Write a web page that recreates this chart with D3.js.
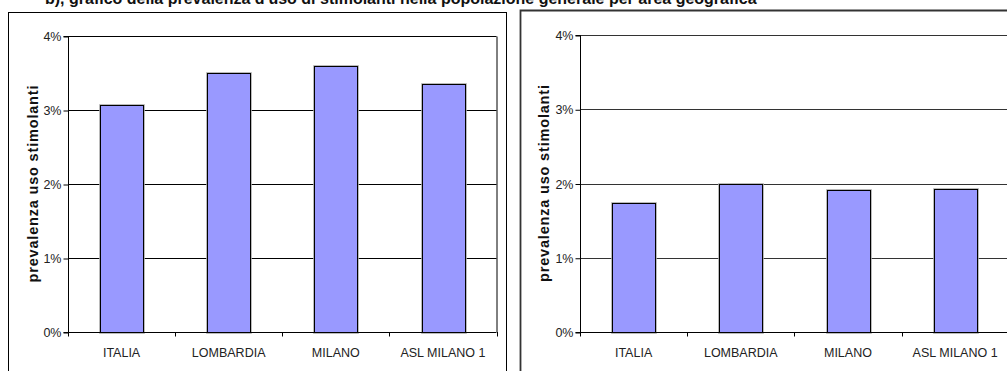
<!DOCTYPE html>
<html>
<head>
<meta charset="utf-8">
<script src="https://cdn.jsdelivr.net/npm/d3@7"></script>
<style>
  html, body { margin: 0; padding: 0; background: #fff; }
  svg { display: block; }
  text { font-family: Arial, "Liberation Sans", sans-serif; }
</style>
</head>
<body>
<svg id="chart" width="1007" height="371"></svg>
<script>
// Areas shown on the x axis of both panels
const categories = ["ITALIA", "LOMBARDIA", "MILANO", "ASL MILANO 1"];
// Prevalence of stimulant use (%), left and right panel
const leftValues = [3.07, 3.50, 3.60, 3.35];
const rightValues = [1.74, 2.00, 1.91, 1.93];
// Y axis ticks (%)
const yTicks = [0, 1, 2, 3, 4];
const yTitle = "prevalenza uso stimolanti";
const pageTitle = "b), grafico della prevalenza d'uso di stimolanti nella popolazione generale per area geografica";

const svg = d3.select("#chart");

// Page heading (its upper part lies above the visible area)
svg.append("text")
  .attr("x", 45).attr("y", 4)
  .attr("font-size", 16).attr("font-weight", "bold")
  .attr("fill", "#111")
  .text(pageTitle);

// Panel frames
svg.append("rect")
  .attr("x", 8.5).attr("y", 12.5).attr("width", 498).attr("height", 400)
  .attr("fill", "none").attr("stroke", "#000").attr("stroke-width", 1);
svg.append("path")
  .attr("d", "M520.5,420V10.5H1010")
  .attr("fill", "none").attr("stroke", "#333").attr("stroke-width", 1.8);

function drawPanel(cfg) {
  const g = svg.append("g");
  const x = d3.scaleBand().domain(categories)
    .range([cfg.x0, cfg.x1]).paddingInner(0.6).paddingOuter(0.3);
  const y = d3.scaleLinear().domain([0, 4]).range([cfg.yBottom, cfg.yTop]);

  // horizontal gridlines
  g.selectAll("line.grid").data(yTicks.filter(d => d > 0)).join("line")
    .attr("class", "grid")
    .attr("x1", cfg.x0).attr("x2", cfg.x1)
    .attr("y1", d => Math.round(y(d)) + 0.5).attr("y2", d => Math.round(y(d)) + 0.5)
    .attr("stroke", cfg.gridColor).attr("stroke-width", 1);

  // plot-area right border
  if (cfg.rightBorder) {
    g.append("line")
      .attr("x1", cfg.x1 + 0.5).attr("x2", cfg.x1 + 0.5)
      .attr("y1", Math.round(y(4)) + 0.5).attr("y2", cfg.yBottom)
      .attr("stroke", "#000");
  }

  // bars with a soft grey halo
  g.selectAll("rect.halo").data(cfg.values).join("rect")
    .attr("class", "halo")
    .attr("x", (d, i) => Math.round(x(categories[i])) + 0.5)
    .attr("y", d => Math.round(y(d)) + 0.5)
    .attr("width", Math.round(x.bandwidth()))
    .attr("height", d => y(0) - Math.round(y(d)))
    .attr("fill", "none").attr("stroke", "#aaa").attr("stroke-width", 2.6);
  g.selectAll("rect.bar").data(cfg.values).join("rect")
    .attr("class", "bar")
    .attr("x", (d, i) => Math.round(x(categories[i])) + 0.5)
    .attr("y", d => Math.round(y(d)) + 0.5)
    .attr("width", Math.round(x.bandwidth()))
    .attr("height", d => y(0) - Math.round(y(d)))
    .attr("fill", "#9999ff").attr("stroke", "#000").attr("stroke-width", 1);

  // y axis
  const yAxis = d3.axisLeft(y).tickValues(yTicks).tickSize(5).tickPadding(2)
    .tickFormat(d => d + "%");
  const ya = g.append("g").attr("transform", `translate(${cfg.x0 + 0.5},0.5)`).call(yAxis);
  ya.select(".domain").attr("stroke", "#000").attr("d", `M-5,${y(0)}H0V${y(4)}H-5`);
  ya.selectAll(".tick line").attr("stroke", "#000");
  ya.selectAll(".tick text")
    .attr("font-size", 12.5).attr("fill", "#222")
    .attr("font-family", "Arial, 'Liberation Sans', sans-serif");

  // x axis: ticks sit between categories
  const xa = g.append("g");
  xa.append("line")
    .attr("x1", cfg.x0).attr("x2", cfg.x1)
    .attr("y1", y(0) + 0.5).attr("y2", y(0) + 0.5)
    .attr("stroke", "#000");
  const bounds = d3.range(categories.length + 1)
    .map(i => cfg.x0 + i * x.step());
  xa.selectAll("line.tk").data(bounds).join("line")
    .attr("class", "tk")
    .attr("x1", d => Math.round(d) + 0.5).attr("x2", d => Math.round(d) + 0.5)
    .attr("y1", y(0)).attr("y2", y(0) + 4.5)
    .attr("stroke", "#000");
  xa.selectAll("text").data(categories).join("text")
    .attr("x", d => x(d) + x.bandwidth() / 2)
    .attr("y", y(0) + 24.5)
    .attr("text-anchor", "middle")
    .attr("font-size", 12.5).attr("fill", "#222")
    .text(d => d);

  // y axis title
  g.append("text")
    .attr("transform", `translate(${cfg.titleX},${(cfg.yTop + cfg.yBottom) / 2}) rotate(-90)`)
    .attr("text-anchor", "middle")
    .attr("font-size", 14.5).attr("font-weight", "bold").attr("fill", "#111")
    .attr("textLength", 197).attr("lengthAdjust", "spacing")
    .text(yTitle);
}

drawPanel({ x0: 68, x1: 496.5, yTop: 36, yBottom: 332, values: leftValues,
            gridColor: "#000", rightBorder: true, titleX: 38 });
drawPanel({ x0: 580, x1: 1008.7, yTop: 35, yBottom: 332, values: rightValues,
            gridColor: "#333", rightBorder: false, titleX: 549 });
</script>
</body>
</html>
